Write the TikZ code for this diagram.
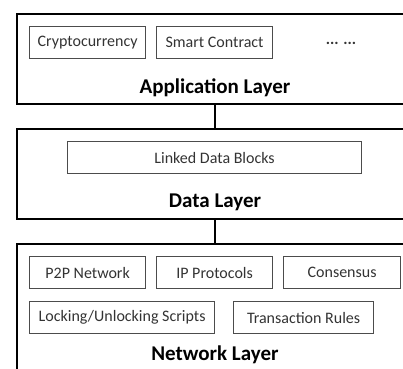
\documentclass[tikz,border=0pt]{standalone}
\usepackage{fontspec}
\setmainfont{Carlito}
\usetikzlibrary{positioning}

\begin{document}
\begin{tikzpicture}[x=1pt, y=-1pt, font=\fontsize{16}{19}\selectfont]

  \tikzset{layer/.style={draw, line width=2pt, minimum width=400pt, minimum height=90pt,
                         anchor=north west, inner sep=0pt},
           item/.style={draw=black!70, line width=1.2pt, text=black!80, minimum height=32pt,
                        anchor=north west, inner sep=0pt},
           title/.style={font=\fontsize{21}{24}\selectfont\bfseries},
           link/.style={line width=2pt}}

  \useasboundingbox (0,0) rectangle (403,368);
  \clip (0,0) rectangle (403,368);

  % the three layers
  \node[layer] (app) at (16,13) {};
  \node[layer] (data) at (16,128) {};
  \node[layer, minimum height=140pt] (net) at (16,243) {};

  % application layer
  \node[item, minimum width=116pt] (crypto) at (29,26) {Cryptocurrency};
  \node[item, minimum width=116pt] (smart) at (156,26) {Smart Contract};
  \node[font=\fontsize{16}{19}\selectfont\bfseries, text=black!80] (more) at (341,43) {... ...};
  \node[title] (appname) at (215,88) {Application Layer};

  % data layer
  \node[item, minimum width=294pt] (blocks) at (67,141) {Linked Data Blocks};
  \node[title] (dataname) at (215,202) {Data Layer};

  % network layer
  \node[item, minimum width=116pt] (p2p) at (29,256) {P2P Network};
  \node[item, minimum width=116pt] (ip) at (156,256) {IP Protocols};
  \node[item, minimum width=117pt] (cons) at (283,256) {Consensus};
  \node[item, minimum width=185pt] (lock) at (29,301) {Locking/Unlocking Scripts};
  \node[item, minimum width=140pt] (rules) at (233,301) {Transaction Rules};
  \node[title] (netname) at (215,355) {Network Layer};

  % links between layers
  \draw[link] (app.south -| appname) -- (data.north -| appname);
  \draw[link] (data.south -| dataname) -- (net.north -| dataname);

\end{tikzpicture}
\end{document}
